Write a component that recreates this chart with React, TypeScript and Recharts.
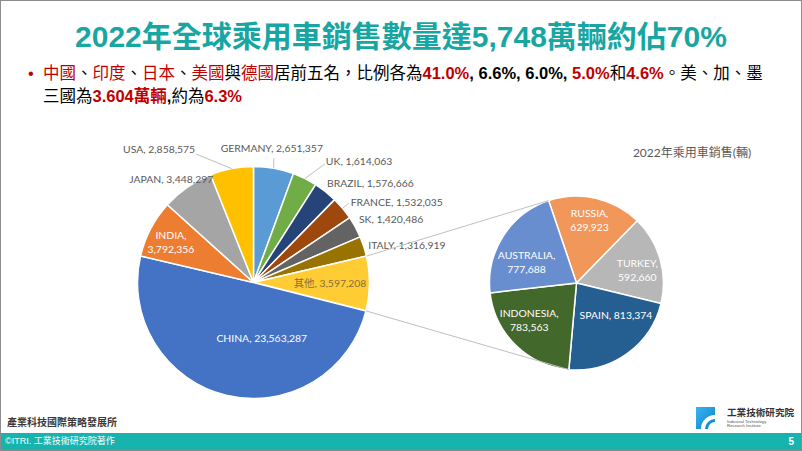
import React from 'react';
import { PieChart, Pie, Cell } from 'recharts';

// ---------- data ----------
const leftNames = ['GERMANY', 'UK', 'BRAZIL', 'FRANCE', 'SK', 'ITALY', '其他', 'CHINA', 'INDIA', 'JAPAN', 'USA'];
const leftValues = [2651357, 1614063, 1576666, 1532035, 1420486, 1316919, 3597208, 23563287, 3792356, 3448297, 2858575];
const rightNames = ['RUSSIA', 'TURKEY', 'SPAIN', 'INDONESIA', 'AUSTRALIA'];
const rightValues = [629923, 592660, 813374, 783563, 777688];
const chartTitle = '2022年乘用車銷售(輛)';
const otherName = '其他';

// ---------- styles ----------
const leftColors = ['#5B9BD5', '#70AD47', '#264478', '#9E480E', '#636363', '#997300', '#FFCD33', '#4472C4', '#ED7D31', '#A5A5A5', '#FFC000'];
const rightColors = ['#F1975A', '#B7B7B7', '#255E91', '#43682B', '#698ED0'];

const W = 802;
const H = 451;
const LP = { cx: 253.5, cy: 282.5, r: 116 };
const RP = { cx: 576.5, cy: 283, r: 87 };
const LEFT_START = 90;
const RIGHT_START = 108.7;
const RADIAN = Math.PI / 180;
const LABEL_FONT = 'Lato, "Noto Sans CJK TC", sans-serif';
const LABEL_SIZE = 10.4;
const LABEL_GRAY = '#595959';
const LINE_GRAY = '#BFBFBF';

const leftData = leftNames.map((name, i) => ({ name, value: leftValues[i] }));
const rightData = rightNames.map((name, i) => ({ name, value: rightValues[i] }));

const fmt = (v: number) => v.toLocaleString('en-US');
const sum = (a: number[]) => a.reduce((s, v) => s + v, 0);

type Place = {
  rf: number;
  dx: number;
  dy: number;
  anchor: 'start' | 'middle' | 'end';
  line?: [number, number];
  two?: boolean;
  color: string;
};

const leftPlace: Record<string, Place> = {
  GERMANY: { rf: 1, dx: -2, dy: -20, anchor: 'middle', line: [0, -10], color: LABEL_GRAY },
  UK: { rf: 1, dx: 21, dy: -17.5, anchor: 'start', line: [20, -14.5], color: LABEL_GRAY },
  BRAZIL: { rf: 1, dx: 1.5, dy: -8.6, anchor: 'start', color: LABEL_GRAY },
  FRANCE: { rf: 1, dx: 8, dy: -6, anchor: 'start', line: [6, -5], color: LABEL_GRAY },
  SK: { rf: 1, dx: 3.5, dy: -8, anchor: 'start', color: LABEL_GRAY },
  ITALY: { rf: 1, dx: 4.5, dy: -1.5, anchor: 'start', color: LABEL_GRAY },
  其他: { rf: 0.66, dx: 0, dy: 0, anchor: 'middle', color: '#7F6F3F' },
  CHINA: { rf: 0.5, dx: 22, dy: -1, anchor: 'middle', color: '#FFFFFF' },
  INDIA: { rf: 0.75, dx: -5.5, dy: 0, anchor: 'middle', two: true, color: '#FFFFFF' },
  JAPAN: { rf: 1, dx: -16, dy: -8, anchor: 'middle', color: LABEL_GRAY },
  USA: { rf: 1, dx: -36.5, dy: -19.5, anchor: 'end', line: [-35.5, -14.5], color: LABEL_GRAY },
};

const rightPlace: Record<string, Place> = {
  RUSSIA: { rf: 0.68, dx: 0, dy: -5, anchor: 'middle', two: true, color: '#FFFFFF' },
  TURKEY: { rf: 0.68, dx: 4, dy: 3, anchor: 'middle', two: true, color: '#FFFFFF' },
  SPAIN: { rf: 0.68, dx: 5, dy: -16, anchor: 'middle', color: '#FFFFFF' },
  INDONESIA: { rf: 0.68, dx: -6, dy: -5, anchor: 'middle', two: true, color: '#FFFFFF' },
  AUSTRALIA: { rf: 0.68, dx: 0, dy: 11, anchor: 'middle', two: true, color: '#FFFFFF' },
};

const polar = (cx: number, cy: number, r: number, a: number) => ({
  x: cx + r * Math.cos(-a * RADIAN),
  y: cy + r * Math.sin(-a * RADIAN),
});

// angles for the pie-of-pie connector lines, derived from the data
const leftTotal = sum(leftValues);
const otherIdx = leftNames.indexOf(otherName);
const otherStartA = LEFT_START - (360 * sum(leftValues.slice(0, otherIdx))) / leftTotal;
const otherEndA = otherStartA - (360 * leftValues[otherIdx]) / leftTotal;
const rightTotal = sum(rightValues);
const rightTopA = RIGHT_START;
const rightBotA = RIGHT_START - (360 * sum(rightValues.slice(0, 3))) / rightTotal;

const makeLabel = (names: string[], values: number[], place: Record<string, Place>, isLeft: boolean) => (props: any) => {
  const { cx, cy, midAngle, outerRadius, index } = props;
  const name = names[index];
  const value = values[index];
  const p = place[name];
  if (!p) return null;
  const base = polar(cx, cy, outerRadius * p.rf, midAngle);
  const tx = base.x + p.dx;
  const ty = base.y + p.dy;
  const els: React.ReactNode[] = [];
  if (p.line) {
    els.push(
      <line key="l" x1={base.x} y1={base.y} x2={base.x + p.line[0]} y2={base.y + p.line[1]} stroke={LINE_GRAY} strokeWidth={1} />
    );
  }
  if (isLeft && name === otherName) {
    const a1 = polar(cx, cy, outerRadius, otherStartA);
    const a2 = polar(cx, cy, outerRadius, otherEndA);
    const b1 = polar(RP.cx - 1, RP.cy - 1, RP.r, rightTopA);
    const b2 = polar(RP.cx - 1, RP.cy - 1, RP.r, rightBotA);
    els.push(<line key="c1" x1={a1.x} y1={a1.y} x2={b1.x} y2={b1.y} stroke={LINE_GRAY} strokeWidth={1} />);
    els.push(<line key="c2" x1={a2.x} y1={a2.y} x2={b2.x} y2={b2.y} stroke={LINE_GRAY} strokeWidth={1} />);
  }
  const common = {
    textAnchor: p.anchor,
    fill: p.color,
    fontSize: LABEL_SIZE,
    fontFamily: LABEL_FONT,
    dominantBaseline: 'central' as const,
  };
  if (p.two) {
    els.push(
      <text key="t1" x={tx} y={ty - 7} {...common}>{`${name},`}</text>,
      <text key="t2" x={tx} y={ty + 7} {...common}>{fmt(value)}</text>
    );
  } else {
    els.push(
      <text key="t" x={tx} y={ty} {...common}>{`${name}, ${fmt(value)}`}</text>
    );
  }
  return <g>{els}</g>;
};

const RED = '#C00000';
const TEAL = '#18A6A3';
const TXT_FONT = '"Liberation Sans", "Noto Sans CJK TC", sans-serif';

const Logo = () => (
  <svg width={110} height={30} style={{ position: 'absolute', left: 692, top: 402 }}>
    <defs>
      <linearGradient id="lg" x1="0" y1="0" x2="1" y2="1">
        <stop offset="0" stopColor="#39B6F0" />
        <stop offset="1" stopColor="#0A7FCB" />
      </linearGradient>
    </defs>
    <rect x={3} y={4} width={19} height={22} fill="url(#lg)" />
    <path d="M 8 26 A 14 14 0 0 1 22 12 L 22 16 A 10 10 0 0 0 12 26 Z" fill="#FFFFFF" />
    <path d="M 15 26 A 7 7 0 0 1 22 19 L 22 26 Z" fill="#FFFFFF" />
    <text x={34} y={13} fontSize={9.6} fontWeight={700} fill="#333" fontFamily={TXT_FONT}>工業技術研究院</text>
    <text x={34} y={19.5} fontSize={4.2} fill="#555" fontFamily={TXT_FONT}>Industrial Technology</text>
    <text x={34} y={24} fontSize={4.2} fill="#555" fontFamily={TXT_FONT}>Research Institute</text>
  </svg>
);

export default function App() {
  return (
    <div
      style={{
        position: 'absolute',
        left: 0,
        top: 0,
        width: W,
        height: H,
        background: '#FFFFFF',
        overflow: 'hidden',
        boxSizing: 'border-box',
        border: '1px solid #8C8C8C',
        fontFamily: TXT_FONT,
      }}
    >
      <div style={{ position: 'absolute', left: 0, top: 0 }}>
        <PieChart width={W} height={H} margin={{ top: 0, right: 0, bottom: 0, left: 0 }}>
          <Pie
            data={leftData}
            dataKey="value"
            nameKey="name"
            cx={LP.cx - 1}
            cy={LP.cy - 1}
            outerRadius={LP.r}
            startAngle={LEFT_START}
            endAngle={LEFT_START - 360}
            stroke="#FFFFFF"
            strokeWidth={1.5}
            isAnimationActive={false}
            labelLine={false}
            label={makeLabel(leftNames, leftValues, leftPlace, true)}
          >
            {leftData.map((d, i) => (
              <Cell key={d.name} fill={leftColors[i]} />
            ))}
          </Pie>
          <Pie
            data={rightData}
            dataKey="value"
            nameKey="name"
            cx={RP.cx - 1}
            cy={RP.cy - 1}
            outerRadius={RP.r}
            startAngle={RIGHT_START}
            endAngle={RIGHT_START - 360}
            stroke="#FFFFFF"
            strokeWidth={1.5}
            isAnimationActive={false}
            labelLine={false}
            label={makeLabel(rightNames, rightValues, rightPlace, false)}
          >
            {rightData.map((d, i) => (
              <Cell key={d.name} fill={rightColors[i]} />
            ))}
          </Pie>
          <text
            x={691}
            y={151}
            textAnchor="middle"
            dominantBaseline="central"
            fontSize={12}
            fill={LABEL_GRAY}
            fontFamily={LABEL_FONT}
          >
            {chartTitle}
          </text>
        </PieChart>
      </div>

      <div
        style={{
          position: 'absolute',
          left: -1,
          top: 21,
          width: W,
          textAlign: 'center',
          fontSize: 30,
          lineHeight: '30px',
          fontWeight: 700,
          color: TEAL,
          whiteSpace: 'nowrap',
        }}
      >
        2022年全球乘用車銷售數量達5,748萬輛約佔70%
      </div>

      <div
        style={{
          position: 'absolute',
          left: 27,
          top: 61,
          fontSize: 16.5,
          lineHeight: '22px',
          color: '#000',
          whiteSpace: 'nowrap',
        }}
      >
        <span style={{ color: RED, display: 'inline-block', width: 15 }}>•</span>
        <span style={{ color: RED }}>中國</span>、<span style={{ color: RED }}>印度</span>、
        <span style={{ color: RED }}>日本</span>、<span style={{ color: RED }}>美國</span>與
        <span style={{ color: RED }}>德國</span>居前五名，比例各為
        <b style={{ color: RED }}>41.0%</b>
        <b>, 6.6%, 6.0%, </b>
        <b style={{ color: RED }}>5.0%</b>和<b style={{ color: RED }}>4.6%</b>。美、加、墨
      </div>
      <div
        style={{
          position: 'absolute',
          left: 42,
          top: 84,
          fontSize: 16.5,
          lineHeight: '22px',
          color: '#000',
          whiteSpace: 'nowrap',
        }}
      >
        三國為<b style={{ color: RED }}>3.604萬輛</b>
        <b>,</b>約為<b style={{ color: RED }}>6.3%</b>
      </div>

      <div
        style={{
          position: 'absolute',
          left: 6,
          top: 416,
          fontSize: 10,
          lineHeight: '12px',
          fontWeight: 700,
          color: '#3A3A3A',
          whiteSpace: 'nowrap',
        }}
      >
        產業科技國際策略發展所
      </div>

      <Logo />

      <div
        style={{
          position: 'absolute',
          left: 0,
          top: 432,
          width: W,
          height: 17,
          background: '#17B3AE',
        }}
      >
        <div
          style={{
            position: 'absolute',
            left: 4,
            top: 3,
            fontSize: 9,
            lineHeight: '11px',
            color: '#FFFFFF',
            whiteSpace: 'nowrap',
          }}
        >
          ©ITRI. 工業技術研究院著作
        </div>
        <div
          style={{
            position: 'absolute',
            right: 9,
            top: 3,
            fontSize: 10,
            lineHeight: '11px',
            color: '#FFFFFF',
            fontWeight: 700,
          }}
        >
          5
        </div>
      </div>
    </div>
  );
}
